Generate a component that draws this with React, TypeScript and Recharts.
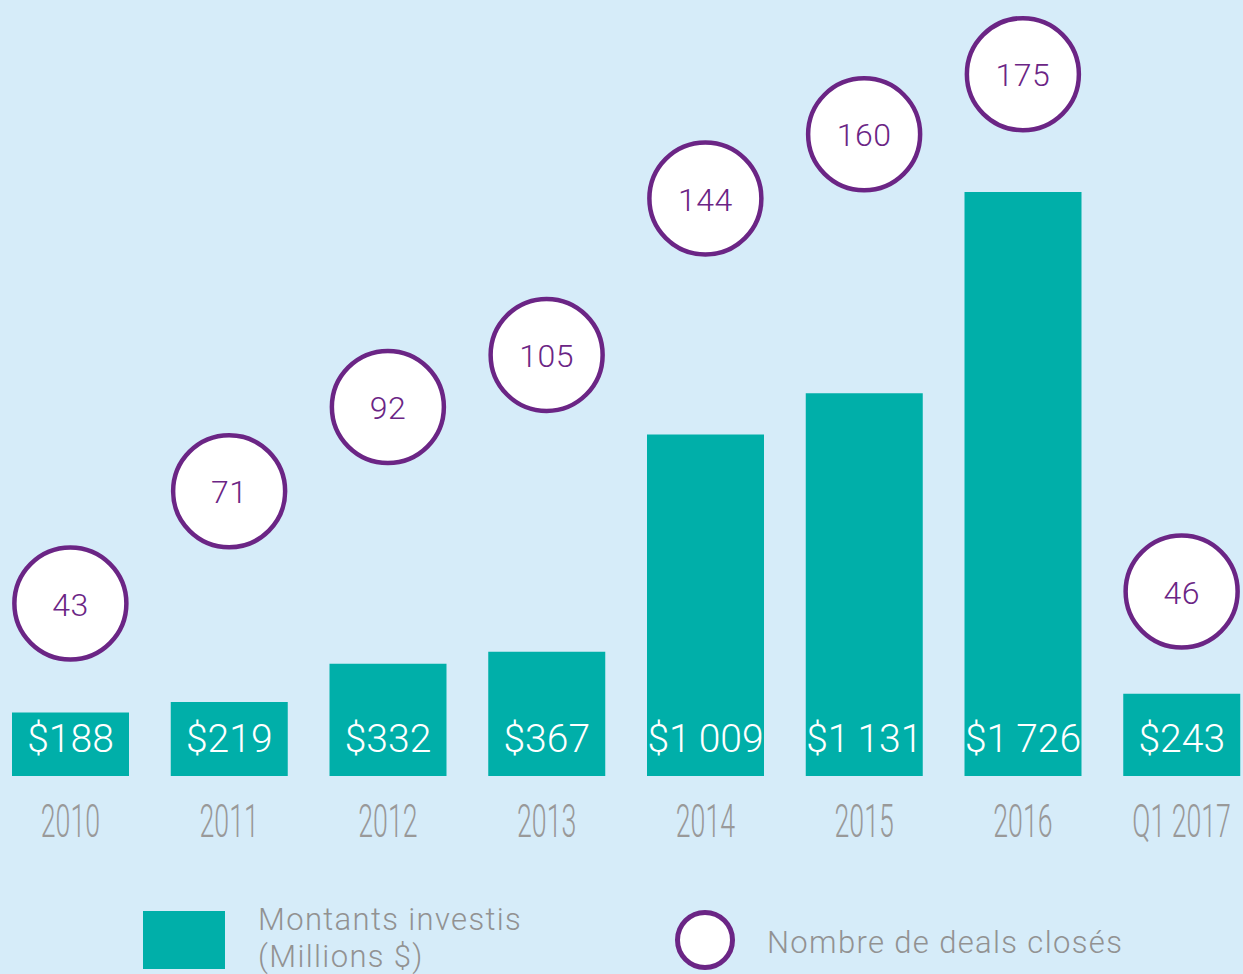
import React from 'react';
import { ComposedChart, Bar, Line, XAxis, YAxis, LabelList, Legend } from 'recharts';

const years = ['2010', '2011', '2012', '2013', '2014', '2015', '2016', 'Q1 2017'];
const amounts = [188, 219, 332, 367, 1009, 1131, 1726, 243];
const deals = [43, 71, 92, 105, 144, 160, 175, 46];

const data = years.map((y, i) => ({ year: y, amount: amounts[i], deals: deals[i] }));

const BG = '#d6ecf9';
const TEAL = '#00afa9';
const PURPLE = '#6b2585';
const GRAY = '#999999';
const FONT = 'Roboto, "Noto Sans", sans-serif';

const fmtAmount = (v: number) =>
  v >= 1000 ? `$${Math.floor(v / 1000)}\u2009${String(v % 1000).padStart(3, '0')}` : `$${v}`;

const XTick = (props: any) => {
  const { x, y, payload } = props;
  return (
    <g transform={`translate(${x},${y + 61})`}>
      <text transform="scale(0.58,1)" textAnchor="middle" fontSize={46} fill={GRAY} fontFamily={FONT} fontWeight={300}>
        {payload.value}
      </text>
    </g>
  );
};

const BarLabel = (props: any) => {
  const vb = props.viewBox ?? props;
  const { x, y, width, height } = vb;
  return (
    <text x={x + width / 2} y={y + height - 24} textAnchor="middle" fontSize={39} fill="#ffffff" fontFamily={FONT} fontWeight={300}>
      {fmtAmount(props.value)}
    </text>
  );
};

const DealLabel = (props: any) => {
  const { x, y, value } = props;
  return (
    <text x={x} y={y + 12} textAnchor="middle" fontSize={32} letterSpacing={0.5} fill={PURPLE} fontFamily={FONT} fontWeight={300}>
      {value}
    </text>
  );
};

const LegendContent = () => (
  <div style={{ position: 'relative', width: 1243, height: 74, fontFamily: FONT, fontWeight: 300, fontSize: 31, lineHeight: '37px', letterSpacing: '1.35px', color: '#929292' }}>
    <div style={{ position: 'absolute', left: 143, top: 11, width: 82, height: 58, background: TEAL }} />
    <div style={{ position: 'absolute', left: 258, top: 1, whiteSpace: 'nowrap' }}>
      Montants investis
      <br />
      (Millions $)
    </div>
    <div style={{ position: 'absolute', left: 675, top: 10, width: 60, height: 60, boxSizing: 'border-box', border: `5px solid ${PURPLE}`, borderRadius: '50%', background: '#ffffff' }} />
    <div style={{ position: 'absolute', left: 767, top: 24, whiteSpace: 'nowrap' }}>Nombre de deals closés</div>
  </div>
);

export default function App() {
  return (
    <div style={{ position: 'absolute', left: 0, top: 0, width: 1243, height: 974, overflow: 'hidden', background: BG }}>
      <div style={{ position: 'absolute', left: -9, top: 0 }}>
        <ComposedChart width={1270} height={974} data={data} margin={{ top: 0, right: 0, bottom: 0, left: 0 }}>
          <XAxis dataKey="year" type="category" interval={0} axisLine={false} tickLine={false} tickSize={0} tickMargin={0} height={198} tick={<XTick />} />
          <YAxis yAxisId="amt" hide domain={[0, 2293.5]} />
          <YAxis yAxisId="deals" hide orientation="right" domain={[0, 193.5]} />
          <Bar yAxisId="amt" dataKey="amount" fill={TEAL} barSize={117} isAnimationActive={false}>
            <LabelList dataKey="amount" content={<BarLabel />} />
          </Bar>
          <Line
            yAxisId="deals"
            dataKey="deals"
            stroke="none"
            strokeWidth={0}
            isAnimationActive={false}
            dot={{ r: 56, fill: '#ffffff', stroke: PURPLE, strokeWidth: 4.5 }}
            activeDot={false}
          >
            <LabelList dataKey="deals" content={<DealLabel />} />
          </Line>
          <Legend layout="horizontal" verticalAlign="middle" align="center" wrapperStyle={{ left: 9, top: 900, width: 1243, height: 74 }} content={<LegendContent />} />
        </ComposedChart>
      </div>
    </div>
  );
}
